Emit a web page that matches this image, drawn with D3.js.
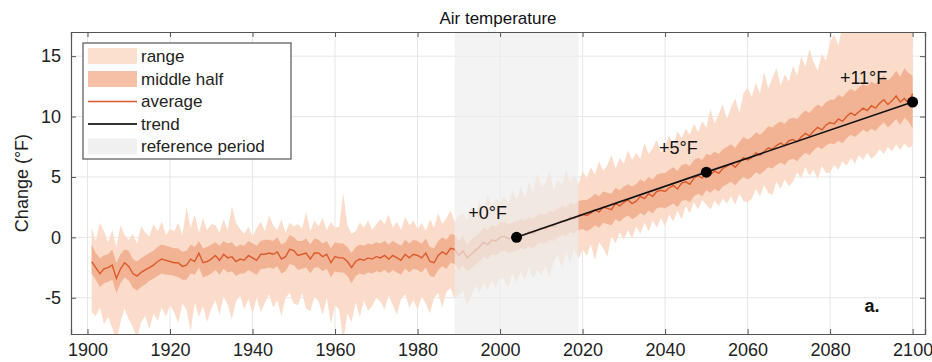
<!DOCTYPE html>
<html>
<head>
<meta charset="utf-8">
<script src="https://cdn.jsdelivr.net/npm/d3@7"></script>
<style>
  body { margin: 0; background: #fff; font-family: "Liberation Sans", Arial, sans-serif; }
</style>
</head>
<body>
<div id="chart"></div>
<script>
'use strict';

// Years 1901..2100, one value per year
const years = d3.range(1901, 2101);

const average = [
  -2.0,-2.5,-3.0,-2.6,-2.5,-2.3,-3.4,-2.6,-2.1,-2.4,
  -3.0,-3.2,-2.9,-2.7,-2.5,-2.3,-2.0,-1.8,-1.9,-2.0,
  -2.1,-2.1,-2.4,-2.3,-1.8,-2.0,-1.3,-2.1,-2.0,-1.8,
  -1.5,-1.9,-1.4,-1.7,-1.6,-2.0,-1.8,-1.9,-1.5,-1.7,
  -1.9,-1.4,-1.4,-1.3,-1.4,-1.2,-1.8,-1.6,-1.0,-1.1,
  -1.5,-1.4,-1.3,-1.8,-1.3,-1.3,-1.6,-1.4,-2.1,-1.6,
  -1.7,-1.7,-2.0,-2.5,-2.0,-1.8,-1.9,-1.7,-1.8,-1.6,
  -1.7,-1.5,-1.8,-1.5,-1.7,-1.9,-1.4,-1.7,-1.4,-1.5,
  -1.7,-1.3,-2.0,-2.1,-1.5,-1.2,-1.4,-0.9,-1.0,-1.5,
  -1.1,-1.7,-1.4,-1.1,-0.8,-0.4,-0.6,-0.2,-0.3,0.0,
  0.1,-0.1,0.0,0.1,0.3,0.2,0.5,0.3,0.6,0.8,
  0.7,1.0,0.9,1.2,1.4,1.3,1.7,1.5,1.8,1.9,
  1.8,2.0,2.3,2.1,2.5,2.4,2.3,2.8,2.6,2.9,
  3.1,2.8,3.0,3.4,3.2,3.6,3.4,3.8,3.9,3.8,
  4.1,4.3,4.0,4.5,4.6,4.4,4.9,5.1,4.9,5.4,
  5.2,5.5,5.3,5.7,5.9,6.1,5.8,6.2,6.6,6.4,
  6.6,7.0,6.8,7.1,7.4,7.3,7.6,7.8,7.6,8.0,
  8.1,7.9,8.3,8.6,8.4,8.8,9.1,8.9,9.3,9.5,
  9.4,9.8,9.6,10.0,10.3,10.1,10.4,10.7,10.5,10.9,
  10.7,11.1,11.4,11.0,11.3,11.7,11.2,11.5,11.1,11.9
];

const midHigh = [
  -0.6,-1.3,-1.7,-1.5,-1.4,-1.0,-2.1,-1.4,-1.0,-1.1,
  -1.8,-2.0,-1.7,-1.5,-1.3,-1.1,-0.8,-0.6,-0.7,-0.8,
  -0.9,-0.9,-1.2,-1.1,-0.6,-0.8,-0.3,-0.9,-0.8,-0.6,
  -0.4,-0.7,-0.3,-0.5,-0.4,-0.8,-0.6,-0.7,-0.3,-0.5,
  -0.7,-0.3,-0.2,-0.2,-0.3,0.0,-0.6,-0.4,0.2,0.0,
  -0.3,-0.3,-0.1,-0.6,-0.1,-0.2,-0.5,-0.3,-0.9,-0.4,
  -0.5,-0.5,-0.8,-1.3,-0.8,-0.6,-0.7,-0.5,-0.6,-0.4,
  -0.5,-0.3,-0.6,-0.3,-0.5,-0.7,-0.2,-0.5,-0.2,-0.3,
  -0.5,-0.1,-0.8,-0.9,-0.3,0.0,-0.2,0.3,0.2,-0.3,
  0.1,-0.6,-0.2,0.1,0.4,0.8,0.6,1.0,0.9,1.2,
  1.3,1.1,1.2,1.3,1.5,1.4,1.7,1.5,1.8,2.0,
  1.9,2.2,2.1,2.4,2.6,2.5,2.9,2.7,3.0,3.1,
  3.1,3.3,3.6,3.4,3.8,3.7,3.6,4.1,3.9,4.2,
  4.4,4.2,4.4,4.8,4.6,5.0,4.8,5.2,5.3,5.3,
  5.6,5.8,5.5,6.0,6.1,5.9,6.4,6.6,6.4,6.9,
  6.8,7.1,6.9,7.3,7.5,7.7,7.4,7.9,8.3,8.1,
  8.3,8.7,8.5,8.8,9.2,9.1,9.4,9.6,9.4,9.8,
  9.9,9.8,10.2,10.5,10.3,10.7,11.0,10.8,11.2,11.4,
  11.4,11.8,11.6,12.0,12.3,12.1,12.4,12.7,12.5,12.9,
  12.7,13.1,13.4,13.0,13.3,13.8,13.3,14.0,13.6,13.4
];

const midLow = [
  -3.0,-3.5,-4.1,-3.8,-3.7,-3.5,-4.6,-3.8,-3.3,-3.6,
  -4.2,-4.4,-4.1,-3.9,-3.6,-3.4,-3.2,-3.0,-3.1,-3.1,
  -3.2,-3.3,-3.5,-3.5,-3.0,-3.1,-2.5,-3.3,-3.2,-3.0,
  -2.7,-3.1,-2.6,-2.9,-2.8,-3.2,-3.0,-3.0,-2.7,-2.9,
  -3.1,-2.6,-2.6,-2.5,-2.6,-2.4,-3.0,-2.8,-2.2,-2.3,
  -2.7,-2.6,-2.5,-3.0,-2.5,-2.5,-2.8,-2.6,-3.3,-2.8,
  -2.9,-2.9,-3.2,-3.8,-3.2,-3.0,-3.1,-2.9,-3.0,-2.8,
  -2.9,-2.7,-3.0,-2.7,-2.9,-3.1,-2.6,-2.9,-2.6,-2.7,
  -2.9,-2.5,-3.2,-3.3,-2.7,-2.4,-2.6,-2.1,-2.2,-2.7,
  -2.3,-2.8,-2.6,-2.3,-2.0,-1.6,-1.8,-1.4,-1.5,-1.2,
  -1.1,-1.3,-1.2,-1.1,-0.9,-1.0,-0.7,-0.9,-0.6,-0.4,
  -0.5,-0.2,-0.3,0.0,0.2,0.1,0.5,0.3,0.6,0.7,
  0.5,0.7,1.0,0.8,1.2,1.1,1.0,1.5,1.3,1.6,
  1.8,1.5,1.7,2.0,1.8,2.2,2.0,2.4,2.5,2.4,
  2.6,2.8,2.5,3.0,3.1,2.9,3.4,3.6,3.4,3.9,
  3.7,4.0,3.8,4.2,4.4,4.6,4.3,4.7,5.0,4.8,
  5.0,5.4,5.2,5.5,5.8,5.7,6.0,6.2,6.0,6.4,
  6.5,6.3,6.7,7.0,6.8,7.2,7.5,7.3,7.6,7.8,
  7.7,8.0,7.8,8.2,8.5,8.3,8.6,8.9,8.7,9.0,
  8.8,9.2,9.5,9.1,9.4,9.8,9.3,9.9,9.6,9.0
];

const rangeHigh = [
  0.8,-0.3,1.2,0.5,-0.4,0.6,-0.8,1.0,0.2,-0.2,
  0.3,-0.5,0.9,0.4,0.1,1.1,0.5,1.3,0.2,0.7,
  0.5,1.2,0.2,2.5,0.8,1.9,0.4,1.6,0.6,1.1,
  1.0,0.4,1.5,0.6,2.6,1.2,0.7,0.3,0.9,0.1,
  0.8,1.3,0.5,1.8,1.0,0.6,1.5,0.4,1.2,0.9,
  1.1,0.7,2.1,0.5,1.4,0.9,1.6,0.6,1.3,0.8,
  0.9,3.7,1.0,0.3,0.5,1.2,0.8,1.4,0.6,1.1,
  1.5,1.1,1.9,0.8,1.3,0.6,1.7,1.0,1.4,0.7,
  1.2,0.5,1.5,0.8,2.0,1.1,1.6,2.2,1.3,1.8,
  2.0,1.4,2.6,1.8,3.0,2.3,3.5,2.7,3.2,2.9,
  3.4,2.8,3.9,3.1,4.2,3.3,4.6,3.8,5.3,4.2,
  4.5,5.4,3.9,4.8,4.3,5.6,4.6,5.1,4.4,5.5,
  4.9,5.8,5.2,6.3,5.5,6.0,6.8,5.7,6.6,6.1,
  7.2,6.4,7.0,6.5,7.8,6.9,7.4,8.1,7.0,7.6,
  8.4,7.6,8.8,8.2,9.0,8.5,9.4,8.7,9.6,9.1,
  10.6,9.4,10.2,11.0,9.8,10.8,11.5,10.3,11.9,12.4,
  11.6,12.8,11.9,13.7,12.3,13.2,14.0,12.6,13.5,12.9,
  14.2,13.4,15.0,14.1,15.6,14.5,13.8,15.2,14.6,16.2,
  16.8,15.9,17.5,18.2,17.8,18.5,18.0,19.0,18.4,19.2,
  18.8,19.5,18.6,19.3,18.9,19.8,19.0,19.6,19.1,18.5
];

const rangeLow = [
  -6.2,-6.5,-5.8,-7.2,-6.6,-7.5,-8.6,-7.0,-5.9,-6.8,
  -7.4,-8.4,-7.0,-6.5,-7.6,-6.3,-6.9,-5.8,-6.6,-5.6,
  -6.2,-7.1,-5.5,-6.0,-7.8,-5.4,-6.6,-5.7,-7.0,-5.9,
  -5.2,-6.4,-4.9,-5.6,-6.8,-5.3,-4.8,-6.0,-5.1,-6.3,
  -5.0,-6.2,-5.4,-4.7,-5.8,-5.2,-6.5,-5.0,-4.6,-5.5,
  -5.6,-4.6,-5.9,-6.1,-4.9,-5.3,-6.4,-5.0,-7.2,-5.6,
  -6.0,-8.6,-6.3,-7.0,-5.4,-6.6,-5.2,-6.1,-5.7,-5.0,
  -5.3,-6.0,-4.8,-5.6,-6.4,-5.1,-4.7,-5.8,-5.2,-6.0,
  -4.9,-5.5,-6.3,-5.0,-4.6,-5.8,-4.5,-4.2,-5.1,-4.8,
  -4.4,-5.6,-4.9,-4.0,-4.6,-3.8,-4.4,-3.6,-4.2,-3.3,
  -3.5,-4.2,-3.0,-3.8,-2.8,-3.6,-2.5,-3.4,-2.7,-3.1,
  -2.4,-3.3,-2.0,-1.5,-2.6,-1.2,-2.2,-0.9,-1.8,-1.0,
  -1.5,-0.6,-1.9,-0.4,-0.9,-1.6,0.1,-0.5,0.4,-0.2,
  0.6,-0.1,0.9,0.3,1.2,0.5,1.4,0.8,1.6,0.9,
  1.9,1.3,2.2,1.5,2.6,2.0,2.9,2.3,3.1,2.7,
  2.3,3.0,2.6,3.2,2.8,3.4,2.7,3.6,3.0,2.9,
  3.2,4.0,3.4,4.3,3.7,3.5,4.6,4.0,4.8,4.2,
  4.6,5.4,4.9,5.8,5.1,5.6,4.8,5.9,5.3,5.4,
  6.0,5.6,6.3,5.9,6.6,6.1,6.8,6.4,7.0,6.5,
  6.8,7.3,6.9,7.5,7.1,7.7,7.2,7.8,7.4,7.6
];

// trend markers
const trendYears = [2004, 2050, 2100];
const trendValues = [0, 5.4, 11.2];
const trendLabels = ['+0°F', '+5°F', '+11°F'];

const refPeriod = [1989, 2019];

const xTicks = [1900, 1920, 1940, 1960, 1980, 2000, 2020, 2040, 2060, 2080, 2100];
const yTicks = [-5, 0, 5, 10, 15];

const legendItems = ['range', 'middle half', 'average', 'trend', 'reference period'];

// colours
const cRange = '#fbdccb';
const cMid = '#f2b394';
const cAvg = '#dc5a2a';

const data = years.map((y, i) => ({
  year: y, avg: average[i], mlo: midLow[i], mhi: midHigh[i], rlo: rangeLow[i], rhi: rangeHigh[i]
}));

// dimensions
const W = 932, H = 362;
const margin = {top: 32, right: 7, bottom: 28, left: 71};
const width = W - margin.left - margin.right;
const height = H - margin.top - margin.bottom;

const svg = d3.select('#chart').append('svg')
  .attr('width', W).attr('height', H)
  .style('font-family', '"Liberation Sans", Arial, sans-serif');

svg.append('defs').append('clipPath').attr('id', 'clip')
  .append('rect').attr('width', width).attr('height', height);

const g = svg.append('g').attr('transform', `translate(${margin.left},${margin.top})`);

const x = d3.scaleLinear().domain([1896, 2103]).range([0, width]);
const y = d3.scaleLinear().domain([-8, 17]).range([height, 0]);

// grid
g.append('g').selectAll('line').data(xTicks).join('line')
  .attr('x1', d => x(d)).attr('x2', d => x(d)).attr('y1', 0).attr('y2', height)
  .attr('stroke', '#e6e6e6');
g.append('g').selectAll('line').data(yTicks).join('line')
  .attr('y1', d => y(d)).attr('y2', d => y(d)).attr('x1', 0).attr('x2', width)
  .attr('stroke', '#e6e6e6');

const plot = g.append('g').attr('clip-path', 'url(#clip)');

plot.append('path').datum(data)
  .attr('fill', cRange)
  .attr('d', d3.area().x(d => x(d.year)).y0(d => y(d.rlo)).y1(d => y(d.rhi)));

plot.append('path').datum(data)
  .attr('fill', cMid)
  .attr('d', d3.area().x(d => x(d.year)).y0(d => y(d.mlo)).y1(d => y(d.mhi)));

plot.append('path').datum(data)
  .attr('fill', 'none').attr('stroke', cAvg).attr('stroke-width', 1.4)
  .attr('d', d3.line().x(d => x(d.year)).y(d => y(d.avg)));

// reference period overlay
plot.append('rect')
  .attr('x', x(refPeriod[0])).attr('width', x(refPeriod[1]) - x(refPeriod[0]))
  .attr('y', 0).attr('height', height)
  .attr('fill', '#eeeeee').attr('fill-opacity', 0.68);

// trend
const trend = trendYears.map((yr, i) => ({year: yr, val: trendValues[i], label: trendLabels[i]}));
plot.append('path').datum(trend)
  .attr('fill', 'none').attr('stroke', '#111').attr('stroke-width', 1.6)
  .attr('d', d3.line().x(d => x(d.year)).y(d => y(d.val)));

g.selectAll('.dot').data(trend).join('circle')
  .attr('cx', d => x(d.year)).attr('cy', d => y(d.val)).attr('r', 5.5)
  .attr('fill', '#000');

const labelDx = [-29, -28, -49];
g.selectAll('.tlabel').data(trend).join('text')
  .attr('x', (d, i) => x(d.year) + labelDx[i]).attr('y', d => y(d.val) - 24)
  .attr('text-anchor', 'middle').attr('dominant-baseline', 'central')
  .attr('font-size', 18).attr('fill', '#111')
  .text(d => d.label);

g.append('text').attr('x', 872 - margin.left).attr('y', 312 - margin.top)
  .attr('text-anchor', 'middle').attr('font-size', 18).attr('font-weight', 'bold')
  .attr('fill', '#111').text('a.');

// axes (inward ticks, box)
const axisColor = '#555';
const xAxis = g.append('g').attr('transform', `translate(0,${height})`)
  .call(d3.axisBottom(x).tickValues(xTicks).tickFormat(d3.format('d')).tickSize(-5).tickPadding(9));
const xTop = g.append('g')
  .call(d3.axisTop(x).tickValues(xTicks).tickFormat('').tickSize(-5));
const yAxis = g.append('g')
  .call(d3.axisLeft(y).tickValues(yTicks).tickSize(-5).tickPadding(10));
const yRight = g.append('g').attr('transform', `translate(${width},0)`)
  .call(d3.axisRight(y).tickValues(yTicks).tickFormat('').tickSize(-5));

[xAxis, xTop, yAxis, yRight].forEach(a => {
  a.select('.domain').attr('stroke', axisColor).attr('stroke-width', 1.2);
  a.selectAll('.tick line').attr('stroke', axisColor);
  a.selectAll('.tick text').attr('font-size', 18).attr('fill', '#222')
    .attr('font-family', '"Liberation Sans", Arial, sans-serif');
});
yAxis.selectAll('.tick text').text(d => d < 0 ? '-' + Math.abs(d) : d);

// title & y label
svg.append('text').attr('x', margin.left + width / 2).attr('y', 18)
  .attr('text-anchor', 'middle').attr('dominant-baseline', 'central')
  .attr('font-size', 17).attr('fill', '#111').text('Air temperature');

svg.append('text')
  .attr('transform', `translate(22,${margin.top + height / 2}) rotate(-90)`)
  .attr('text-anchor', 'middle').attr('dominant-baseline', 'central')
  .attr('font-size', 18).attr('fill', '#222').text('Change (°F)');

// legend
const lg = g.append('g').attr('transform', `translate(${83 - margin.left},${43 - margin.top})`);
lg.append('rect').attr('width', 208).attr('height', 116)
  .attr('fill', '#fff').attr('stroke', '#555').attr('stroke-width', 1.2);

const rowY = [13, 36, 58.5, 81, 103.5];
legendItems.forEach((name, i) => {
  const row = lg.append('g').attr('transform', `translate(0,${rowY[i]})`);
  if (i === 0 || i === 1 || i === 4) {
    row.append('rect').attr('x', 5).attr('y', -8).attr('width', 49).attr('height', 16)
      .attr('fill', i === 0 ? '#fbe0d0' : i === 1 ? '#f5c0a5' : '#f0f0f0');
  } else {
    row.append('line').attr('x1', 5).attr('x2', 54).attr('y1', 0).attr('y2', 0)
      .attr('stroke', i === 2 ? cAvg : '#333').attr('stroke-width', i === 2 ? 1.4 : 1.8);
  }
  row.append('text').attr('x', 58).attr('y', 0).attr('dominant-baseline', 'central')
    .attr('font-size', 17).attr('fill', '#222').text(name);
});
</script>
</body>
</html>
